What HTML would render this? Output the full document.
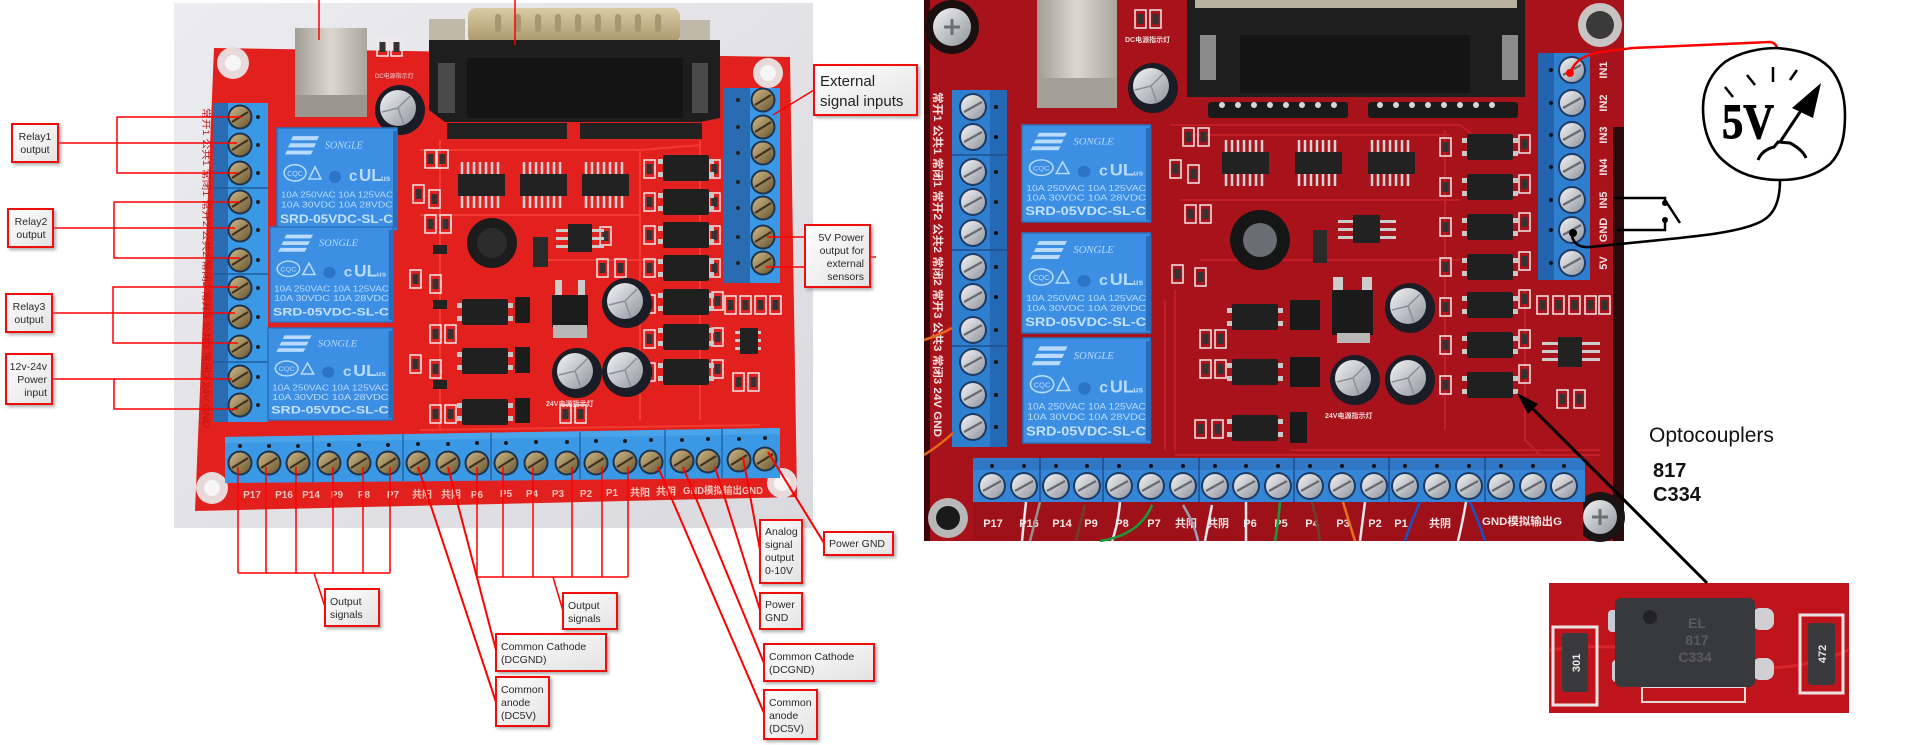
<!DOCTYPE html>
<html><head><meta charset="utf-8"><style>
html,body{margin:0;padding:0;background:#fff;width:1920px;height:745px;overflow:hidden}
svg{display:block}
text{font-family:"Liberation Sans","Noto Sans CJK SC",sans-serif}
</style></head><body>
<svg width="1920" height="745" viewBox="0 0 1920 745" xmlns="http://www.w3.org/2000/svg">
<defs>
<linearGradient id="gbg" x1="0" y1="0" x2="1" y2="1"><stop offset="0" stop-color="#ececf0"/><stop offset="1" stop-color="#dadade"/></linearGradient>
<linearGradient id="lab" x1="0" y1="0" x2="1" y2="1"><stop offset="0" stop-color="#ffffff"/><stop offset="1" stop-color="#e2e2e2"/></linearGradient>
<linearGradient id="silv" x1="0" y1="0" x2="1" y2="1"><stop offset="0" stop-color="#f4f4f6"/><stop offset="1" stop-color="#8e949c"/></linearGradient>
<linearGradient id="brass" x1="0" y1="0" x2="1" y2="1"><stop offset="0" stop-color="#cdb886"/><stop offset="1" stop-color="#6a5630"/></linearGradient>
<linearGradient id="usb" x1="0" y1="0" x2="1" y2="0"><stop offset="0" stop-color="#a29e96"/><stop offset="0.5" stop-color="#dcd8d0"/><stop offset="1" stop-color="#aaa69e"/></linearGradient>
<linearGradient id="gold" x1="0" y1="0" x2="0" y2="1"><stop offset="0" stop-color="#d9cba4"/><stop offset="1" stop-color="#a8966a"/></linearGradient>
<filter id="sh" x="-10%" y="-10%" width="130%" height="130%"><feDropShadow dx="2" dy="2" stdDeviation="1.5" flood-color="#888" flood-opacity="0.7"/></filter>
<g id="sb"><circle r="12.5" fill="#1d3350"/><circle r="10.5" fill="url(#brass)"/><line x1="-8" y1="5" x2="8" y2="-5" stroke="#3e3020" stroke-width="2.2"/></g>
<g id="ss"><circle r="14" fill="#1b3a66"/><circle r="12" fill="url(#silv)"/><line x1="-9" y1="5" x2="9" y2="-5" stroke="#666a70" stroke-width="2.2"/></g>
<g id="op"><rect x="-5" y="-9" width="56" height="5" fill="#c8c8c8"/><rect x="-5" y="4" width="56" height="5" fill="#c8c8c8"/><rect x="0" y="-13" width="46" height="26" rx="2" fill="#202020"/></g>
<g id="res"><rect x="0" y="0" width="11" height="18" fill="none" stroke="#f2e8e8" stroke-width="1.5"/><rect x="2.5" y="4" width="6" height="10" fill="#333"/></g>
<g id="cap"><circle r="25" fill="#1a1c26"/><circle cx="-2" cy="-2" r="18" fill="url(#silv)"/><path d="M-2,-2 L10,-14 M-2,-2 L-18,2 M-2,-2 L4,15" stroke="#8a9098" stroke-width="1.5"/></g>
<g id="ic"><g stroke="#d4d4d4" stroke-width="2.5"><path d="M4,0v13M10,0v13M16,0v13M22,0v13M28,0v13M34,0v13M40,0v13M4,33v13M10,33v13M16,33v13M22,33v13M28,33v13M34,33v13M40,33v13"/></g><rect x="0" y="12" width="47" height="22" fill="#222"/></g>
<g id="rl">
<rect width="120" height="100" fill="#3d8fe4" stroke="#2a72c0" stroke-width="1.5"/>
<rect x="116" y="3" width="5" height="95" fill="#2a6cb8"/>
<g fill="#b8dbff"><polygon points="16,8 42,8 40,12 14,12"/><polygon points="13,15 39,15 37,19 11,19"/><polygon points="10,22 36,22 34,26 8,26"/></g>
<text x="48" y="20" font-size="10" style="font-family:'Liberation Serif',serif;font-style:italic" fill="#b8dbff">SONGLE</text>
<ellipse cx="18" cy="44" rx="11" ry="8" fill="none" stroke="#b8dbff" stroke-width="1.5"/>
<text x="18" y="47" font-size="7" text-anchor="middle" fill="#b8dbff">CQC</text>
<polygon points="32,50 38,38 44,50" fill="none" stroke="#b8dbff" stroke-width="1.5"/>
<circle cx="58" cy="48" r="6" fill="#2c74c6"/>
<text x="72" y="52" font-size="15" font-weight="bold" fill="#b8dbff">c</text>
<text x="82" y="52" font-size="17" font-weight="bold" fill="#b8dbff">UL</text>
<text x="104" y="52" font-size="8" font-weight="bold" fill="#b8dbff">us</text>
<text x="4" y="68" font-size="8.5" textLength="112" lengthAdjust="spacingAndGlyphs" fill="#b8dbff">10A 250VAC  10A 125VAC</text>
<text x="4" y="78" font-size="8.5" textLength="112" lengthAdjust="spacingAndGlyphs" fill="#b8dbff">10A 30VDC   10A 28VDC</text>
<text x="3" y="93" font-size="12" font-weight="bold" textLength="113" lengthAdjust="spacingAndGlyphs" fill="#c4e0ff">SRD-05VDC-SL-C</text>
</g>
</defs>

<!-- ================= LEFT PHOTO ================= -->
<rect x="174" y="3" width="639" height="525" fill="url(#gbg)"/>
<polygon points="214,48 790,57 797,497 195,511" fill="#e2201e"/>
<g stroke="#f23a30" stroke-width="2" fill="none">
<path d="M420,150 L640,150 L700,145"/><path d="M420,215 L640,215"/><path d="M540,260 L700,260"/><path d="M420,430 L760,425"/>
<path d="M700,140 L700,420"/><path d="M640,150 L640,420"/><path d="M440,140 L440,430"/>
</g>
<g fill="#e8dada"><circle cx="233" cy="63" r="16"/><circle cx="768" cy="73" r="15"/><circle cx="212" cy="488" r="16"/><circle cx="782" cy="483" r="15"/></g>
<g fill="#f6f6f6"><circle cx="233" cy="63" r="8"/><circle cx="768" cy="73" r="8"/><circle cx="212" cy="488" r="8"/><circle cx="782" cy="483" r="8"/></g>
<rect x="295" y="28" width="72" height="89" fill="url(#usb)"/>
<rect x="295" y="95" width="72" height="22" fill="#9a968e"/>
<use href="#res" x="377" y="38"/><use href="#res" x="391" y="38"/>
<text x="375" y="78" font-size="6" fill="#f4d0d0">DC电源指示灯</text>
<use href="#cap" x="400" y="110"/>
<rect x="429" y="19" width="36" height="24" fill="#c0b8a8"/>
<rect x="680" y="20" width="30" height="24" fill="#c0b8a8"/>
<rect x="468" y="8" width="212" height="36" rx="8" fill="url(#gold)"/>
<g fill="#a89670"><rect x="495" y="14" width="6" height="18" rx="3"/><rect x="515" y="14" width="6" height="18" rx="3"/><rect x="535" y="14" width="6" height="18" rx="3"/><rect x="555" y="14" width="6" height="18" rx="3"/><rect x="575" y="14" width="6" height="18" rx="3"/><rect x="595" y="14" width="6" height="18" rx="3"/><rect x="615" y="14" width="6" height="18" rx="3"/><rect x="635" y="14" width="6" height="18" rx="3"/><rect x="655" y="14" width="6" height="18" rx="3"/></g>
<polygon points="429,40 720,40 720,118 700,122 445,122 429,110" fill="#1e1e1e"/>
<rect x="467" y="58" width="216" height="60" fill="#141414"/>
<rect x="438" y="63" width="17" height="50" fill="#4a4a4a"/><rect x="692" y="63" width="16" height="50" fill="#4a4a4a"/>
<rect x="447" y="123" width="120" height="16" fill="#222"/><rect x="580" y="123" width="122" height="16" fill="#222"/>
<rect x="213" y="103" width="15" height="319" fill="#2a6cb2"/>
<rect x="228" y="103" width="40" height="319" fill="#3a98e4"/>
<g stroke="#1f5c9c" stroke-width="1.5"><line x1="213" y1="188" x2="268" y2="188"/><line x1="213" y1="274" x2="268" y2="274"/><line x1="213" y1="362" x2="268" y2="362"/></g>
<g fill="#222"><circle cx="258" cy="117" r="2"/><circle cx="258" cy="145" r="2"/><circle cx="258" cy="173" r="2"/><circle cx="258" cy="202" r="2"/><circle cx="258" cy="230" r="2"/><circle cx="258" cy="260" r="2"/><circle cx="258" cy="288" r="2"/><circle cx="258" cy="317" r="2"/><circle cx="258" cy="347" r="2"/><circle cx="258" cy="377" r="2"/><circle cx="258" cy="405" r="2"/></g>
<use href="#sb" x="240" y="117"/><use href="#sb" x="240" y="145"/><use href="#sb" x="240" y="173"/><use href="#sb" x="240" y="202"/><use href="#sb" x="240" y="230"/><use href="#sb" x="240" y="260"/><use href="#sb" x="240" y="288"/><use href="#sb" x="240" y="317"/><use href="#sb" x="240" y="347"/><use href="#sb" x="240" y="377"/><use href="#sb" x="240" y="405"/>
<text transform="translate(203,108) rotate(90)" font-size="9" fill="#b81414" textLength="320" lengthAdjust="spacingAndGlyphs">常开1 公共1 常闭1 常开2 公共2 常闭2 常开3 公共3 常闭3 24V GND</text>
<use href="#rl" transform="translate(277,128) scale(1,1.02)"/>
<use href="#rl" transform="translate(270,227) scale(1.025,0.95)"/>
<use href="#rl" transform="translate(268,328) scale(1.04,0.92)"/>
<use href="#ic" x="458" y="162"/><use href="#ic" x="520" y="162"/><use href="#ic" x="582" y="162"/>
<use href="#res" x="425" y="150"/><use href="#res" x="437" y="150"/><use href="#res" x="413" y="185"/><use href="#res" x="429" y="190"/>
<use href="#res" x="425" y="215"/><use href="#res" x="440" y="215"/><use href="#res" x="410" y="270"/><use href="#res" x="430" y="275"/>
<use href="#res" x="430" y="325"/><use href="#res" x="445" y="325"/><use href="#res" x="410" y="355"/><use href="#res" x="430" y="360"/>
<use href="#res" x="430" y="405"/><use href="#res" x="445" y="405"/>
<use href="#res" x="644" y="160"/><use href="#res" x="644" y="193"/><use href="#res" x="644" y="226"/><use href="#res" x="644" y="259"/><use href="#res" x="644" y="295"/><use href="#res" x="644" y="330"/><use href="#res" x="644" y="363"/>
<use href="#res" x="709" y="160"/><use href="#res" x="709" y="193"/><use href="#res" x="709" y="226"/><use href="#res" x="709" y="259"/><use href="#res" x="712" y="292"/><use href="#res" x="712" y="328"/><use href="#res" x="712" y="360"/>
<use href="#res" x="600" y="227"/><use href="#res" x="597" y="259"/><use href="#res" x="615" y="259"/>
<use href="#res" x="725" y="296"/><use href="#res" x="740" y="296"/><use href="#res" x="755" y="296"/><use href="#res" x="770" y="296"/>
<use href="#res" x="733" y="373"/><use href="#res" x="748" y="373"/>
<use href="#res" x="560" y="405"/><use href="#res" x="575" y="405"/>
<circle cx="492" cy="243" r="25" fill="#1c1c1c"/><circle cx="492" cy="243" r="15" fill="#2c2c2c"/>
<rect x="533" y="237" width="15" height="30" fill="#2a2a2a"/>
<rect x="556" y="229" width="48" height="3" fill="#ccc"/><rect x="556" y="237" width="48" height="3" fill="#ccc"/><rect x="556" y="245" width="48" height="3" fill="#ccc"/>
<rect x="568" y="224" width="24" height="28" fill="#222"/>
<rect x="735" y="331" width="26" height="3" fill="#ccc"/><rect x="735" y="339" width="26" height="3" fill="#ccc"/><rect x="735" y="347" width="26" height="3" fill="#ccc"/>
<rect x="740" y="328" width="18" height="26" fill="#222"/>
<rect x="555" y="280" width="7" height="16" fill="#ccc"/><rect x="578" y="280" width="7" height="16" fill="#ccc"/>
<rect x="552" y="295" width="36" height="32" fill="#1c1c1c"/><rect x="553" y="325" width="34" height="13" fill="#b8b8b8"/>
<use href="#cap" x="627" y="303"/><use href="#cap" x="577" y="373"/><use href="#cap" x="627" y="372"/>
<text x="546" y="406" font-size="7" font-weight="bold" fill="#f4d0d0">24V电源指示灯</text>
<use href="#op" x="663" y="168"/><use href="#op" x="663" y="202"/><use href="#op" x="663" y="235"/><use href="#op" x="663" y="268"/><use href="#op" x="663" y="302"/><use href="#op" x="663" y="337"/><use href="#op" x="663" y="372"/>
<use href="#op" x="462" y="312"/><use href="#op" x="462" y="361"/><use href="#op" x="462" y="412"/>
<g fill="#1c1c1c"><rect x="515" y="297" width="15" height="26"/><rect x="515" y="347" width="15" height="26"/><rect x="515" y="398" width="15" height="25"/></g>
<g fill="#222"><rect x="433" y="245" width="14" height="9"/><rect x="433" y="300" width="14" height="9"/><rect x="433" y="380" width="14" height="9"/></g>
<rect x="723" y="88" width="27" height="195" fill="#2a6cb2"/>
<rect x="750" y="88" width="30" height="195" fill="#3a98e4"/>
<g fill="#222"><circle cx="738" cy="100" r="2"/><circle cx="738" cy="127" r="2"/><circle cx="738" cy="153" r="2"/><circle cx="738" cy="182" r="2"/><circle cx="738" cy="208" r="2"/><circle cx="738" cy="237" r="2"/><circle cx="738" cy="263" r="2"/></g>
<use href="#sb" x="763" y="100"/><use href="#sb" x="763" y="127"/><use href="#sb" x="763" y="153"/><use href="#sb" x="763" y="182"/><use href="#sb" x="763" y="208"/><use href="#sb" x="763" y="237"/><use href="#sb" x="763" y="263"/>
<polygon points="225,437 780,428 780,478 225,483" fill="#3a98e4"/>
<polygon points="225,437 780,428 780,434 225,443" fill="#4aa4ea"/>
<g stroke="#2566a8" stroke-width="1.5"><line x1="313" y1="436" x2="313" y2="482"/><line x1="403" y1="434" x2="403" y2="481"/><line x1="491" y1="433" x2="491" y2="480"/><line x1="580" y1="432" x2="580" y2="479"/><line x1="665" y1="430" x2="665" y2="479"/><line x1="722" y1="429" x2="722" y2="478"/></g>
<g fill="#1a1a1a"><circle cx="240" cy="446" r="2"/><circle cx="269" cy="446" r="2"/><circle cx="298" cy="446" r="2"/><circle cx="329" cy="445" r="2"/><circle cx="359" cy="445" r="2"/><circle cx="388" cy="445" r="2"/><circle cx="418" cy="444" r="2"/><circle cx="448" cy="444" r="2"/><circle cx="477" cy="443" r="2"/><circle cx="506" cy="443" r="2"/><circle cx="536" cy="442" r="2"/><circle cx="567" cy="442" r="2"/><circle cx="596" cy="441" r="2"/><circle cx="625" cy="441" r="2"/><circle cx="651" cy="440" r="2"/><circle cx="682" cy="440" r="2"/><circle cx="708" cy="439" r="2"/><circle cx="739" cy="439" r="2"/><circle cx="765" cy="438" r="2"/></g>
<use href="#sb" x="240" y="463"/><use href="#sb" x="269" y="463"/><use href="#sb" x="298" y="463"/><use href="#sb" x="329" y="463"/><use href="#sb" x="359" y="463"/><use href="#sb" x="388" y="463"/><use href="#sb" x="418" y="463"/><use href="#sb" x="448" y="463"/><use href="#sb" x="477" y="463"/><use href="#sb" x="506" y="463"/><use href="#sb" x="536" y="463"/><use href="#sb" x="567" y="463"/><use href="#sb" x="596" y="463"/><use href="#sb" x="625" y="462"/><use href="#sb" x="651" y="462"/><use href="#sb" x="682" y="461"/><use href="#sb" x="708" y="461"/><use href="#sb" x="739" y="460"/><use href="#sb" x="765" y="459"/>
<g font-size="10" font-weight="bold" fill="#f2c4bc" text-anchor="middle">
<text x="252" y="498">P17</text><text x="284" y="498">P16</text><text x="311" y="498">P14</text><text x="337" y="498">P9</text><text x="364" y="498">P8</text><text x="393" y="498">P7</text><text x="422" y="498">共阳</text><text x="451" y="498">共阴</text><text x="477" y="498">P6</text><text x="506" y="497">P5</text><text x="532" y="497">P4</text><text x="558" y="497">P3</text><text x="586" y="497">P2</text><text x="612" y="496">P1</text><text x="640" y="496">共阳</text><text x="666" y="495">共阴</text>
</g>
<text x="683" y="494" font-size="10" font-weight="bold" fill="#f2c4bc" textLength="80" lengthAdjust="spacingAndGlyphs">GND模拟输出GND</text>

<!-- ============ LEFT ANNOTATIONS ============ -->
<g stroke="#ff0000" stroke-width="1.5" fill="none">
<line x1="319" y1="0" x2="319" y2="40"/>
<line x1="515" y1="0" x2="515" y2="45"/>
<path d="M242,117 H117 V173 H238 M58,143 H237"/>
<path d="M240,202 H114 V258 H240 M53,228 H235"/>
<path d="M238,287 H113 V343 H238 M52,313 H235"/>
<path d="M52,379 H114 V409 H238 M114,379 H232"/>
<line x1="814" y1="90" x2="773" y2="115"/>
<path d="M805,237 H767 M805,267 H766 M870,257 H876"/>
<path d="M238,467 V573 M266,467 V573 M296,467 V573 M333,467 V573 M363,467 V573 M390,467 V573 M238,573 H390 M314,573 L325,607"/>
<path d="M477,467 V577 M503,467 V577 M533,467 V577 M572,467 V577 M602,467 V577 M628,467 V577 M477,577 H628 M553,577 L563,611"/>
</g>
<g stroke="#ff0000" stroke-width="2" fill="none">
<line x1="418" y1="467" x2="496" y2="702"/>
<line x1="448" y1="467" x2="496" y2="650"/>
<line x1="658" y1="467" x2="764" y2="713"/>
<line x1="683" y1="467" x2="764" y2="663"/>
<line x1="715" y1="467" x2="760" y2="610"/>
<line x1="743" y1="457" x2="760" y2="550"/>
<line x1="768" y1="452" x2="824" y2="543"/>
</g>
<g fill="url(#lab)" stroke="#f01010" stroke-width="2" filter="url(#sh)">
<rect x="12" y="124" width="46" height="38"/>
<rect x="8" y="209" width="45" height="38"/>
<rect x="6" y="294" width="46" height="38"/>
<rect x="6" y="354" width="46" height="50"/>
<rect x="814" y="65" width="103" height="50"/>
<rect x="805" y="225" width="65" height="62"/>
<rect x="325" y="589" width="54" height="37"/>
<rect x="563" y="593" width="54" height="36"/>
<rect x="496" y="634" width="110" height="37"/>
<rect x="496" y="677" width="53" height="49"/>
<rect x="760" y="520" width="42" height="63"/>
<rect x="824" y="532" width="69" height="23"/>
<rect x="760" y="593" width="42" height="36"/>
<rect x="764" y="644" width="110" height="37"/>
<rect x="764" y="690" width="53" height="49"/>
</g>
<g font-size="10.5" fill="#2a2a2a">
<text x="35" y="140" text-anchor="middle">Relay1</text><text x="35" y="153" text-anchor="middle">output</text>
<text x="31" y="225" text-anchor="middle">Relay2</text><text x="31" y="238" text-anchor="middle">output</text>
<text x="29" y="310" text-anchor="middle">Relay3</text><text x="29" y="323" text-anchor="middle">output</text>
<text x="47" y="370" text-anchor="end">12v-24v</text><text x="47" y="383" text-anchor="end">Power</text><text x="47" y="396" text-anchor="end">input</text>
<text x="864" y="241" text-anchor="end">5V Power</text><text x="864" y="254" text-anchor="end">output for</text><text x="864" y="267" text-anchor="end">external</text><text x="864" y="280" text-anchor="end">sensors</text>
<text x="330" y="605">Output</text><text x="330" y="618">signals</text>
<text x="568" y="609">Output</text><text x="568" y="622">signals</text>
<text x="501" y="650">Common Cathode</text><text x="501" y="663">(DCGND)</text>
<text x="501" y="693">Common</text><text x="501" y="706">anode</text><text x="501" y="719">(DC5V)</text>
<text x="765" y="535">Analog</text><text x="765" y="548">signal</text><text x="765" y="561">output</text><text x="765" y="574">0-10V</text>
<text x="829" y="547">Power GND</text>
<text x="765" y="608">Power</text><text x="765" y="621">GND</text>
<text x="769" y="660">Common Cathode</text><text x="769" y="673">(DCGND)</text>
<text x="769" y="706">Common</text><text x="769" y="719">anode</text><text x="769" y="732">(DC5V)</text>
</g>
<text x="820" y="86" font-size="15" fill="#222">External</text>
<text x="820" y="106" font-size="15" fill="#222">signal inputs</text>

<!-- ================= RIGHT PHOTO ================= -->
<rect x="924" y="0" width="700" height="541" fill="#a8121a"/>
<rect x="924" y="0" width="6" height="541" fill="#3a0808"/>
<rect x="1613" y="127" width="11" height="414" fill="#2a0a0a"/>
<g stroke="#c21e26" stroke-width="2" fill="none">
<path d="M1170,125 H1460 L1480,140"/><path d="M1190,135 H1450"/><path d="M1180,200 H1460"/><path d="M1200,260 H1460"/><path d="M1165,300 V450"/><path d="M1175,290 V450"/><path d="M1445,130 V430"/><path d="M1525,290 V440 L1540,455"/><path d="M1290,450 H1600"/><path d="M1175,455 H1600"/>
</g>
<circle cx="952" cy="27" r="27" fill="#1a1010"/><circle cx="952" cy="27" r="19" fill="url(#silv)"/>
<path d="M944,27 H960 M952,19 V35" stroke="#707070" stroke-width="3"/>
<circle cx="1600" cy="25" r="22" fill="#c8c4c4"/><circle cx="1600" cy="25" r="14" fill="#3a3a3a"/>
<circle cx="948" cy="518" r="20" fill="#b8b8b8"/><circle cx="948" cy="518" r="12" fill="#1a1a1a"/>
<circle cx="1600" cy="517" r="25" fill="#1a1414"/><circle cx="1600" cy="517" r="17" fill="url(#silv)"/>
<path d="M1592,517 H1608 M1600,509 V525" stroke="#707070" stroke-width="3"/>
<rect x="1037" y="0" width="80" height="108" fill="url(#usb)"/>
<rect x="1037" y="78" width="80" height="30" fill="#a4a098"/>
<use href="#res" x="1135" y="10"/><use href="#res" x="1150" y="10"/>
<text x="1125" y="42" font-size="7" font-weight="bold" fill="#f0d8d8">DC电源指示灯</text>
<use href="#cap" x="1153" y="88"/>
<rect x="1187" y="0" width="338" height="97" fill="#1e1e1e"/>
<rect x="1195" y="0" width="322" height="8" fill="#b8b0a0"/>
<rect x="1240" y="35" width="230" height="58" fill="#141414"/>
<rect x="1200" y="35" width="16" height="45" fill="#8a8a8a"/><rect x="1502" y="35" width="16" height="45" fill="#8a8a8a"/>
<rect x="1208" y="102" width="140" height="16" rx="3" fill="#1a1a1a"/><rect x="1368" y="102" width="150" height="16" rx="3" fill="#1a1a1a"/>
<g fill="#d8d8d8"><circle cx="1222" cy="105" r="3"/><circle cx="1238" cy="105" r="3"/><circle cx="1254" cy="105" r="3"/><circle cx="1270" cy="105" r="3"/><circle cx="1286" cy="105" r="3"/><circle cx="1302" cy="105" r="3"/><circle cx="1318" cy="105" r="3"/><circle cx="1334" cy="105" r="3"/><circle cx="1380" cy="105" r="3"/><circle cx="1396" cy="105" r="3"/><circle cx="1412" cy="105" r="3"/><circle cx="1428" cy="105" r="3"/><circle cx="1444" cy="105" r="3"/><circle cx="1460" cy="105" r="3"/><circle cx="1476" cy="105" r="3"/><circle cx="1492" cy="105" r="3"/></g>
<rect x="952" y="90" width="55" height="357" fill="#2f7fd0"/>
<rect x="990" y="90" width="17" height="357" fill="#2568b4"/>
<g stroke="#1e4f8c" stroke-width="1.5"><line x1="952" y1="155" x2="1007" y2="155"/><line x1="952" y1="250" x2="1007" y2="250"/><line x1="952" y1="346" x2="1007" y2="346"/></g>
<g fill="#111"><circle cx="996" cy="107" r="2"/><circle cx="996" cy="137" r="2"/><circle cx="996" cy="172" r="2"/><circle cx="996" cy="202" r="2"/><circle cx="996" cy="233" r="2"/><circle cx="996" cy="267" r="2"/><circle cx="996" cy="297" r="2"/><circle cx="996" cy="330" r="2"/><circle cx="996" cy="362" r="2"/><circle cx="996" cy="395" r="2"/><circle cx="996" cy="427" r="2"/></g>
<use href="#ss" x="973" y="107"/><use href="#ss" x="973" y="137"/><use href="#ss" x="973" y="172"/><use href="#ss" x="973" y="202"/><use href="#ss" x="973" y="233"/><use href="#ss" x="973" y="267"/><use href="#ss" x="973" y="297"/><use href="#ss" x="973" y="330"/><use href="#ss" x="973" y="362"/><use href="#ss" x="973" y="395"/><use href="#ss" x="973" y="427"/>
<text transform="translate(934,92) rotate(90)" font-size="11" font-weight="bold" fill="#f2e2e2" textLength="345" lengthAdjust="spacingAndGlyphs">常开1 公共1 常闭1 常开2 公共2 常闭2 常开3 公共3 常闭3 24V GND</text>
<path d="M924,340 Q940,335 952,328 M924,455 Q940,445 953,433" stroke="#e8661c" stroke-width="2.5" fill="none"/>
<use href="#rl" transform="translate(1022,125) scale(1.07,0.97)"/>
<use href="#rl" transform="translate(1022,233) scale(1.07,1)"/>
<use href="#rl" transform="translate(1023,338) scale(1.06,1.05)"/>
<use href="#ic" x="1222" y="140"/><use href="#ic" x="1295" y="140"/><use href="#ic" x="1368" y="140"/>
<circle cx="1260" cy="240" r="30" fill="#161616"/><circle cx="1260" cy="240" r="17" fill="#6a6e74"/>
<rect x="1313" y="230" width="14" height="33" fill="#2a2a2a"/>
<rect x="1338" y="220" width="58" height="3" fill="#ccc"/><rect x="1338" y="228" width="58" height="3" fill="#ccc"/><rect x="1338" y="236" width="58" height="3" fill="#ccc"/>
<rect x="1353" y="215" width="27" height="28" fill="#222"/>
<rect x="1333" y="277" width="10" height="14" fill="#ccc"/><rect x="1362" y="277" width="10" height="14" fill="#ccc"/>
<rect x="1332" y="290" width="41" height="45" fill="#1a1a1a"/><rect x="1337" y="333" width="33" height="10" fill="#b8b8b8"/>
<use href="#cap" x="1410" y="308"/><use href="#cap" x="1355" y="380"/><use href="#cap" x="1410" y="380"/>
<text x="1325" y="418" font-size="7" font-weight="bold" fill="#f0d8d8">24V电源指示灯</text>
<use href="#op" x="1467" y="147"/><use href="#op" x="1467" y="187"/><use href="#op" x="1467" y="227"/><use href="#op" x="1467" y="267"/><use href="#op" x="1467" y="305"/><use href="#op" x="1467" y="345"/><use href="#op" x="1467" y="385"/>
<use href="#op" x="1232" y="317"/><use href="#op" x="1232" y="372"/><use href="#op" x="1232" y="428"/>
<g fill="#1a1a1a"><rect x="1290" y="300" width="30" height="30"/><rect x="1290" y="357" width="30" height="30"/><rect x="1290" y="412" width="17" height="31"/></g>
<use href="#res" x="1183" y="128"/><use href="#res" x="1198" y="128"/><use href="#res" x="1170" y="160"/><use href="#res" x="1188" y="165"/><use href="#res" x="1185" y="205"/><use href="#res" x="1200" y="205"/><use href="#res" x="1172" y="265"/><use href="#res" x="1195" y="268"/><use href="#res" x="1200" y="330"/><use href="#res" x="1215" y="330"/><use href="#res" x="1200" y="360"/><use href="#res" x="1215" y="360"/><use href="#res" x="1195" y="420"/><use href="#res" x="1212" y="420"/>
<use href="#res" x="1440" y="138"/><use href="#res" x="1440" y="178"/><use href="#res" x="1440" y="218"/><use href="#res" x="1440" y="258"/><use href="#res" x="1440" y="298"/><use href="#res" x="1440" y="336"/><use href="#res" x="1440" y="376"/>
<use href="#res" x="1519" y="135"/><use href="#res" x="1519" y="175"/><use href="#res" x="1519" y="213"/><use href="#res" x="1519" y="252"/><use href="#res" x="1519" y="290"/><use href="#res" x="1519" y="330"/><use href="#res" x="1519" y="365"/>
<use href="#res" x="1537" y="296"/><use href="#res" x="1553" y="296"/><use href="#res" x="1569" y="296"/><use href="#res" x="1585" y="296"/><use href="#res" x="1599" y="296"/>
<use href="#res" x="1557" y="390"/><use href="#res" x="1574" y="390"/>
<rect x="1542" y="342" width="58" height="3" fill="#ccc"/><rect x="1542" y="350" width="58" height="3" fill="#ccc"/><rect x="1542" y="358" width="58" height="3" fill="#ccc"/>
<rect x="1558" y="337" width="24" height="30" fill="#222"/>
<rect x="1538" y="53" width="52" height="227" fill="#2f7fd0"/>
<rect x="1538" y="53" width="16" height="227" fill="#2464ae"/>
<g fill="#111"><circle cx="1551" cy="70" r="2"/><circle cx="1551" cy="103" r="2"/><circle cx="1551" cy="135" r="2"/><circle cx="1551" cy="167" r="2"/><circle cx="1551" cy="200" r="2"/><circle cx="1551" cy="230" r="2"/><circle cx="1551" cy="263" r="2"/></g>
<use href="#ss" x="1572" y="70"/><use href="#ss" x="1572" y="103"/><use href="#ss" x="1572" y="135"/><use href="#ss" x="1572" y="167"/><use href="#ss" x="1572" y="200"/><use href="#ss" x="1572" y="230"/><use href="#ss" x="1572" y="263"/>
<g font-size="11" font-weight="bold" fill="#f0e0e0" text-anchor="middle">
<text transform="translate(1607,70) rotate(-90)">IN1</text><text transform="translate(1607,103) rotate(-90)">IN2</text><text transform="translate(1607,135) rotate(-90)">IN3</text><text transform="translate(1607,167) rotate(-90)">IN4</text><text transform="translate(1607,200) rotate(-90)">IN5</text><text transform="translate(1607,230) rotate(-90)">GND</text><text transform="translate(1607,263) rotate(-90)">5V</text>
</g>
<rect x="973" y="458" width="612" height="44" fill="#3585d6"/>
<rect x="973" y="458" width="612" height="12" fill="#2e78c6"/>
<g stroke="#1e4f8c" stroke-width="1.5"><line x1="1040" y1="458" x2="1040" y2="502"/><line x1="1103" y1="458" x2="1103" y2="502"/><line x1="1199" y1="458" x2="1199" y2="502"/><line x1="1294" y1="458" x2="1294" y2="502"/><line x1="1389" y1="458" x2="1389" y2="502"/><line x1="1485" y1="458" x2="1485" y2="502"/></g>
<g fill="#111"><circle cx="992" cy="466" r="2"/><circle cx="1024" cy="466" r="2"/><circle cx="1056" cy="466" r="2"/><circle cx="1087" cy="466" r="2"/><circle cx="1119" cy="466" r="2"/><circle cx="1151" cy="466" r="2"/><circle cx="1183" cy="466" r="2"/><circle cx="1215" cy="466" r="2"/><circle cx="1246" cy="466" r="2"/><circle cx="1278" cy="466" r="2"/><circle cx="1310" cy="466" r="2"/><circle cx="1342" cy="466" r="2"/><circle cx="1374" cy="466" r="2"/><circle cx="1405" cy="466" r="2"/><circle cx="1437" cy="466" r="2"/><circle cx="1469" cy="466" r="2"/><circle cx="1501" cy="466" r="2"/><circle cx="1533" cy="466" r="2"/><circle cx="1564" cy="466" r="2"/></g>
<use href="#ss" x="992" y="486"/><use href="#ss" x="1024" y="486"/><use href="#ss" x="1056" y="486"/><use href="#ss" x="1087" y="486"/><use href="#ss" x="1119" y="486"/><use href="#ss" x="1151" y="486"/><use href="#ss" x="1183" y="486"/><use href="#ss" x="1215" y="486"/><use href="#ss" x="1246" y="486"/><use href="#ss" x="1278" y="486"/><use href="#ss" x="1310" y="486"/><use href="#ss" x="1342" y="486"/><use href="#ss" x="1374" y="486"/><use href="#ss" x="1405" y="486"/><use href="#ss" x="1437" y="486"/><use href="#ss" x="1469" y="486"/><use href="#ss" x="1501" y="486"/><use href="#ss" x="1533" y="486"/><use href="#ss" x="1564" y="486"/>
<rect x="973" y="502" width="610" height="39" fill="#9e1118"/>
<g font-size="11" font-weight="bold" fill="#f2e6e6" text-anchor="middle">
<text x="993" y="527">P17</text><text x="1029" y="527">P16</text><text x="1062" y="527">P14</text><text x="1091" y="527">P9</text><text x="1122" y="527">P8</text><text x="1154" y="527">P7</text><text x="1186" y="527">共阳</text><text x="1218" y="527">共阴</text><text x="1250" y="527">P6</text><text x="1281" y="527">P5</text><text x="1312" y="527">P4</text><text x="1343" y="527">P3</text><text x="1375" y="527">P2</text><text x="1401" y="527">P1</text><text x="1440" y="527">共阴</text>
</g>
<text x="1482" y="525" font-size="11" font-weight="bold" fill="#f2e6e6" textLength="80" lengthAdjust="spacingAndGlyphs">GND模拟输出G</text>
<g stroke-width="2.5" fill="none">
<path d="M1026,502 Q1024,520 1022,541" stroke="#e8e8f0"/><path d="M1040,502 Q1035,522 1030,541" stroke="#9a9090"/>
<path d="M1085,505 Q1080,525 1076,541" stroke="#6a4030"/><path d="M1120,502 Q1118,525 1112,541" stroke="#e8e8f0"/>
<path d="M1152,505 Q1140,535 1100,541" stroke="#1a9a3a"/><path d="M1183,505 Q1195,525 1198,541" stroke="#9aa0b8"/>
<path d="M1212,505 Q1208,525 1205,541" stroke="#e8e8f0"/><path d="M1246,502 V541" stroke="#e8e8f0"/><path d="M1280,502 Q1278,525 1275,541" stroke="#1a9a3a"/>
<path d="M1312,502 Q1318,525 1320,541" stroke="#6a4030"/><path d="M1343,502 Q1350,525 1355,541" stroke="#e8701c"/><path d="M1365,502 Q1362,525 1360,541" stroke="#e8e8f0"/>
<path d="M1420,502 Q1410,525 1405,541" stroke="#1a50c8"/><path d="M1466,502 Q1462,525 1458,541" stroke="#e8e8f0"/><path d="M1470,502 Q1480,525 1485,541" stroke="#1a50c8"/>
</g>

<!-- ================= DRAWING ================= -->
<path d="M1570,73 C1575,60 1585,55 1600,52 L1633,48 L1770,42 Q1776,43 1777,48" stroke="#ff0000" stroke-width="2.5" fill="none"/>
<circle cx="1570" cy="73" r="4" fill="#ff0000"/>
<path d="M1777,48 C1800,50 1817,55 1830,68 C1842,82 1845,100 1845,115 C1845,135 1842,152 1830,164 C1817,175 1800,180 1780,180 C1760,180 1740,175 1725,162 C1710,150 1703,130 1703,108 C1703,88 1712,72 1725,62 C1740,52 1760,48 1777,48 Z" stroke="#000" stroke-width="2.6" fill="none"/>
<path d="M1780,180 C1780,200 1775,215 1760,222 C1740,232 1700,236 1660,240 L1590,247 C1578,248 1572,242 1572,234" stroke="#000" stroke-width="2.6" fill="none"/>
<circle cx="1573" cy="233" r="4" fill="#000"/>
<path d="M1613,198 H1665 V203 M1665,200 L1680,223 M1617,230 H1665 V220" stroke="#000" stroke-width="2.5" fill="none"/>
<circle cx="1665" cy="203" r="3" fill="#000"/><circle cx="1665" cy="220" r="3" fill="#000"/>
<path d="M1725,87 L1733,97 M1747,75 L1755,85 M1773,67 L1773,82 M1797,70 L1790,80" stroke="#000" stroke-width="2.5"/>
<text x="1722" y="138" style="font-family:'Liberation Serif',serif;font-weight:bold" font-size="50" fill="#000" stroke="#000" stroke-width="1" textLength="52" lengthAdjust="spacingAndGlyphs">5V</text>
<path d="M1780,142 L1810,97" stroke="#000" stroke-width="3"/>
<polygon points="1821,83 1792,108 1813,118" fill="#000"/>
<path d="M1758,160 Q1762,150 1774,147 L1778,142 L1790,143 Q1803,150 1806,158" stroke="#000" stroke-width="3" fill="none"/>
<text x="1649" y="442" font-size="21" fill="#111">Optocouplers</text>
<text x="1653" y="477" font-size="20" font-weight="bold" fill="#111">817</text>
<text x="1653" y="501" font-size="20" font-weight="bold" fill="#111">C334</text>
<!-- Inset photo -->
<rect x="1549" y="583" width="300" height="130" fill="#c0141c"/>
<path d="M1549,650 Q1620,640 1700,660 T1849,650" stroke="#d8242c" stroke-width="3" fill="none"/>
<rect x="1642" y="687" width="103" height="15" fill="none" stroke="#e8dada" stroke-width="2"/>
<rect x="1553" y="627" width="44" height="78" fill="none" stroke="#ece2e2" stroke-width="3"/>
<rect x="1562" y="633" width="26" height="59" rx="3" fill="#3a3a3c"/>
<text transform="translate(1580,663) rotate(-90)" font-size="11" font-weight="bold" fill="#e8e8e8" text-anchor="middle">301</text>
<rect x="1800" y="615" width="43" height="78" fill="none" stroke="#ece2e2" stroke-width="3"/>
<rect x="1808" y="623" width="27" height="62" rx="3" fill="#3a3a3c"/>
<text transform="translate(1826,654) rotate(-90)" font-size="11" font-weight="bold" fill="#e8e8e8" text-anchor="middle">472</text>
<rect x="1608" y="610" width="16" height="22" rx="4" fill="#c8ccd4"/><rect x="1612" y="660" width="16" height="22" rx="4" fill="#c8ccd4"/>
<rect x="1752" y="608" width="22" height="22" rx="8" fill="#d0d0d4"/><rect x="1752" y="658" width="22" height="22" rx="8" fill="#d0d0d4"/>
<rect x="1615" y="598" width="140" height="89" rx="6" fill="#38393c"/>
<circle cx="1650" cy="617" r="7" fill="#222"/>
<g font-size="14" font-weight="bold" fill="#5a5a5c" text-anchor="middle"><text x="1697" y="628">EL</text><text x="1697" y="645">817</text><text x="1695" y="662">C334</text></g>
<line x1="1707" y1="583" x2="1528" y2="404" stroke="#000" stroke-width="3"/>
<polygon points="1517,393 1538,404 1528,414" fill="#000"/>
</svg>
</body></html>
